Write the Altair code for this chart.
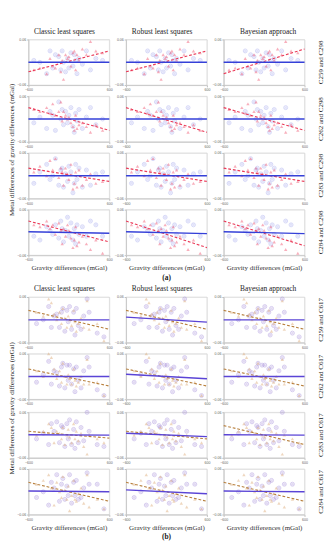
import altair as alt
import pandas as pd

methods = ["Classic least squares", "Robust least squares", "Bayesian approach"]
pairs_a = ["C259 and C298", "C262 and C298", "C283 and C298", "C284 and C298"]
pairs_b = ["C259 and C617", "C262 and C617", "C283 and C617", "C284 and C617"]
x_ticks = [-600, -400, -200, 0, 200, 400, 600]
y_ticks = [-0.06, -0.04, -0.02, 0, 0.02, 0.04, 0.06]

# ---- panel (a) points ----
xa = [-520, -430, -330, -280, -240, -200, -150, -120, -100, -80, -50, -20,
      0, 30, 60, 80, 100, 120, 150, 200, 260, 320, 400, 500]
a_red = [
    [-0.02, -0.015, -0.03, 0.01, -0.01, -0.015, 0.02, -0.025, 0.005, -0.045, 0.02, 0.01,
     0.015, -0.01, 0.025, 0.03, -0.02, 0.02, 0.005, 0.035, 0.02, 0.055, 0.03, 0.025],
    [0.025, 0.02, 0.03, 0.015, 0.04, 0.01, 0.02, 0.045, -0.005, 0.02, 0.01, 0.0,
     0.005, -0.01, -0.02, -0.03, 0.01, -0.025, -0.015, -0.01, -0.02, -0.035, -0.015, -0.03],
    [0.01, 0.025, 0.0, 0.04, 0.015, 0.045, -0.005, 0.02, 0.01, -0.025, 0.02, 0.005,
     -0.01, 0.03, -0.035, -0.02, 0.01, -0.03, 0.015, -0.025, -0.01, 0.005, -0.02, -0.015],
    [0.02, 0.015, 0.03, 0.01, 0.02, -0.005, 0.025, 0.005, -0.03, 0.01, -0.01, 0.02,
     0.005, -0.015, -0.04, -0.02, 0.015, -0.035, -0.025, -0.01, -0.03, -0.045, -0.02, -0.055],
]
a_blue = [
    [0.005, 0.0, -0.03, 0.03, -0.015, 0.02, 0.015, -0.02, 0.03, 0.0, -0.025, 0.01,
     -0.015, 0.025, -0.01, 0.02, 0.005, -0.03, 0.01, -0.005, 0.03, -0.02, 0.01, 0.005],
    [-0.01, 0.005, -0.025, 0.02, 0.01, -0.03, 0.045, 0.0, 0.025, -0.015, 0.02, -0.01,
     0.01, 0.03, -0.02, -0.035, 0.015, -0.005, 0.025, -0.025, 0.005, 0.03, -0.015, 0.0],
    [-0.02, 0.01, 0.03, -0.01, 0.0, 0.045, -0.025, 0.015, 0.02, -0.03, 0.005, -0.015,
     0.025, 0.01, -0.045, -0.02, 0.03, -0.01, 0.02, -0.03, 0.015, -0.025, 0.005, 0.01],
    [-0.01, -0.02, 0.015, 0.005, -0.005, 0.02, -0.015, 0.03, 0.01, -0.025, 0.005, 0.04,
     -0.01, 0.025, -0.02, 0.01, -0.03, 0.02, -0.005, 0.015, -0.01, 0.03, 0.02, -0.01],
]

# ---- panel (b) points ----
xb = [-480, -380, -300, -260, -220, -180, -140, -110, -90, -60, -30, -10,
      10, 40, 70, 90, 110, 140, 180, 220, 270, 300, 420, 520]
b_red = [
    [0.02, 0.01, 0.055, 0.045, 0.015, 0.0, 0.02, -0.01, 0.03, 0.005, -0.02, 0.01,
     0.0, -0.015, 0.025, -0.005, -0.03, -0.01, 0.005, -0.02, 0.05, -0.025, -0.01, -0.055],
    [0.015, 0.0, 0.06, 0.05, 0.02, -0.005, 0.015, -0.015, 0.035, 0.0, -0.02, 0.005,
     -0.005, -0.02, 0.02, -0.01, -0.025, -0.015, 0.0, -0.02, 0.045, -0.02, -0.015, -0.05],
    [0.0, 0.01, 0.03, 0.02, -0.02, 0.01, 0.005, -0.01, 0.02, -0.025, 0.0, 0.015,
     -0.005, -0.02, 0.03, -0.01, 0.01, -0.015, 0.005, -0.03, -0.05, 0.0, -0.01, -0.02],
    [0.02, 0.03, 0.045, 0.01, -0.035, 0.025, 0.0, -0.015, 0.04, 0.005, -0.02, 0.015,
     -0.05, -0.01, 0.03, -0.02, -0.025, -0.005, 0.01, -0.03, 0.045, -0.04, -0.02, -0.045],
]
b_blue = [
    [-0.01, 0.0, 0.035, -0.02, 0.01, 0.015, -0.02, 0.02, 0.03, -0.03, 0.025, -0.005,
     0.035, -0.025, 0.02, -0.04, 0.03, -0.015, -0.025, 0.01, 0.055, 0.02, -0.035, -0.045],
    [-0.015, 0.005, 0.04, -0.02, 0.015, 0.01, -0.025, 0.025, 0.035, -0.03, 0.03, -0.01,
     0.03, -0.02, 0.02, -0.04, 0.025, -0.01, -0.03, 0.015, 0.05, 0.025, -0.035, -0.05],
    [-0.01, 0.005, -0.025, 0.03, 0.01, 0.035, -0.02, 0.025, 0.02, -0.03, 0.03, -0.01,
     0.04, -0.025, 0.015, -0.035, 0.035, -0.02, 0.02, -0.015, 0.06, 0.01, -0.025, -0.03],
    [-0.015, 0.0, -0.035, 0.025, 0.01, 0.045, -0.025, 0.02, 0.035, -0.02, 0.015, -0.01,
     0.045, -0.03, 0.025, -0.01, 0.03, -0.02, -0.015, 0.01, 0.05, 0.02, 0.02, -0.045],
]

# ---- regression line end values (at x=-600 and x=600), [row][column] ----
line_x = [-600, 600]
a_red_left = [[-0.025, -0.025, -0.03], [0.03, 0.03, 0.03], [0.02, 0.02, 0.02], [0.03, 0.03, 0.03]]
a_red_right = [[0.03, 0.03, 0.035], [-0.03, -0.035, -0.03], [-0.015, -0.015, -0.015], [-0.025, -0.04, -0.035]]
a_blue_left = [[0, 0, 0], [0, 0, 0], [0, 0, 0], [0.002, 0.002, 0.002]]
a_blue_right = [[0, 0, 0], [0, 0, 0], [0, 0, 0], [-0.002, -0.003, -0.003]]

b_red_left = [[0.025, 0.025, 0.025], [0.02, 0.02, 0.02], [0.01, 0.01, 0.025], [0.025, 0.025, 0.025]]
b_red_right = [[-0.025, -0.025, -0.025], [-0.025, -0.025, -0.025], [-0.008, -0.01, -0.025], [-0.025, -0.025, -0.025]]
b_blue_left = [[0, 0.007, 0], [0, 0.006, 0], [0.001, 0.005, 0.001], [0.002, 0.005, 0.002]]
b_blue_right = [[0, -0.006, 0], [0, -0.006, 0], [0, -0.004, 0], [0, -0.005, 0]]

SERIF = "Liberation Serif"
CW, CH = 87, 49

styles = {
    "a": dict(pt_blue="#8a90ea", pt_red="#f2607a", ln_blue="#3540d8", ln_red="#ea3a58"),
    "b": dict(pt_blue="#8a6cd0", pt_red="#e0b080", ln_blue="#5a44d6", ln_red="#b8803e"),
}


def cell(half, r, c):
    st = styles[half]
    xs = xa if half == "a" else xb
    reds = (a_red if half == "a" else b_red)[r]
    blues = (a_blue if half == "a" else b_blue)[r]
    rl = (a_red_left if half == "a" else b_red_left)[r][c]
    rr = (a_red_right if half == "a" else b_red_right)[r][c]
    bl = (a_blue_left if half == "a" else b_blue_left)[r][c]
    br = (a_blue_right if half == "a" else b_blue_right)[r][c]
    blue_pts = pd.DataFrame({"x": xs, "y": blues})
    red_pts = pd.DataFrame({"x": xs, "y": reds})
    red_line = pd.DataFrame({"x": line_x, "y": [rl, rr]})
    blue_line = pd.DataFrame({"x": line_x, "y": [bl, br]})

    xaxis = alt.Axis(values=x_ticks, format="d",
                     title="Gravity differences (mGal)" if r == 3 else None)
    yaxis = alt.Axis(values=y_ticks, format=".2~f", title=None)
    X = alt.X("x:Q", scale=alt.Scale(domain=[-600, 600], nice=False), axis=xaxis)
    Y = alt.Y("y:Q", scale=alt.Scale(domain=[-0.06, 0.06], nice=False), axis=yaxis)

    bpts = alt.Chart(blue_pts).mark_point(filled=False, opacity=0.4, size=18,
                                          strokeWidth=0.9, color=st["pt_blue"],
                                          shape="circle").encode(x=X, y=Y)
    bdots = alt.Chart(blue_pts).mark_point(filled=True, opacity=0.25, size=7,
                                           color=st["pt_blue"], shape="circle").encode(x="x:Q", y="y:Q")
    rpts = alt.Chart(red_pts).mark_point(filled=True, opacity=0.5, size=13,
                                         color=st["pt_red"], shape="triangle-up").encode(x="x:Q", y="y:Q")
    rline = alt.Chart(red_line).mark_line(color=st["ln_red"], strokeWidth=1.2,
                                          strokeDash=[3, 2]).encode(x="x:Q", y="y:Q")
    bline = alt.Chart(blue_line).mark_line(color=st["ln_blue"], strokeWidth=1.5).encode(
        x="x:Q", y="y:Q")
    pairs = pairs_a if half == "a" else pairs_b
    props = dict(width=CW, height=CH)
    if c == 2:
        props["title"] = alt.TitleParams(pairs[r], orient="right", angle=270, font=SERIF,
                                         fontSize=7.5, fontWeight="normal", offset=3)
    return alt.layer(bpts, bdots, rpts, rline, bline).properties(**props)


def half_chart(half, label):
    cols = []
    for c in range(3):
        col = alt.vconcat(*[cell(half, r, c) for r in range(4)], spacing=1,
                          title=alt.TitleParams(methods[c], font=SERIF, fontSize=8,
                                                fontWeight="normal", anchor="middle", offset=2))
        cols.append(col)
    grid = alt.hconcat(*cols, spacing=1,
                       title=alt.TitleParams("Metal differences of gravity differences (mGal)",
                                             orient="left", font=SERIF, fontSize=7.5,
                                             fontWeight="normal", anchor="middle", offset=1))
    return alt.vconcat(grid, title=alt.TitleParams(label, orient="bottom", font=SERIF,
                                                   fontSize=8, fontWeight="bold",
                                                   anchor="middle", offset=3))


chart = alt.vconcat(half_chart("a", "(a)"), half_chart("b", "(b)"), spacing=3,
                    padding=0).configure_axis(
    labelFontSize=3.8, labelColor="#666666", labelPadding=1, tickSize=2,
    labelOverlap=False, labelFlush=False,
    tickColor="#bbbbbb", domainColor="#c8c8c8", gridColor="#dcdcdc", gridWidth=0.6,
    titleFont=SERIF, titleFontSize=7.5, titleFontWeight="normal", titleColor="#333333",
    titlePadding=3,
).configure_view(stroke="#c8c8c8", strokeWidth=0.6).configure_title(color="#222222")

chart.save("out.html", embed_options={"renderer": "svg", "actions": False})
